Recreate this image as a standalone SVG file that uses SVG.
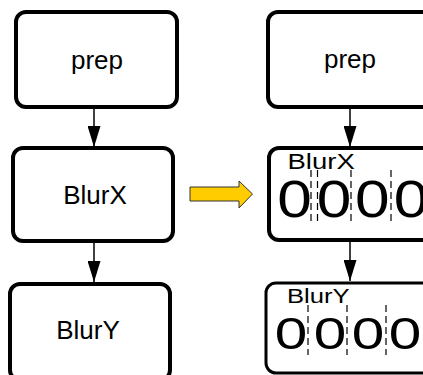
<svg xmlns="http://www.w3.org/2000/svg" width="423" height="375" viewBox="0 0 423 375">
<defs>
<style>
.box{fill:#fff;stroke:#000;stroke-width:4}
.lbl{font-family:"Liberation Sans",Arial,sans-serif;font-size:26px;fill:#000;text-anchor:middle}
.sm{font-family:"Liberation Sans",Arial,sans-serif;fill:#000}
.dig{font-family:"Liberation Sans",Arial,sans-serif;fill:#000;text-anchor:middle}
.edge{stroke:#000;stroke-width:1.5;fill:none;marker-end:url(#ah)}
.dash{stroke:#000;stroke-width:1.2;stroke-dasharray:7,4;fill:none}
</style>
<marker id="ah" markerWidth="21" markerHeight="13" refX="21" refY="6.5" orient="auto" markerUnits="userSpaceOnUse" viewBox="0 0 21 13">
<path d="M0,0 L21,6.5 L0,13 z" fill="#000"/>
</marker>
</defs>
<g id="connectors">
<line class="edge" x1="94" y1="109" x2="94" y2="147"/>
<line class="edge" x1="94" y1="243" x2="94" y2="282"/>
<line class="edge" x1="350" y1="109" x2="350" y2="147"/>
<line class="edge" x1="350" y1="242" x2="350" y2="281"/>
<polygon points="190,187 239,187 239,181 252.5,194 239,208 239,201 190,201" fill="#FFCC00" stroke="#333" stroke-width="1"/>
</g>
<g id="prep-left">
<rect class="box" x="16" y="12" width="161" height="95" rx="10"/>
<text class="lbl" x="97" y="69">prep</text>
</g>
<g id="blurx-left">
<rect class="box" x="13" y="148" width="160" height="93" rx="10"/>
<text class="lbl" x="95" y="204">BlurX</text>
</g>
<g id="blury-left">
<rect class="box" x="10" y="284" width="160" height="96" rx="10"/>
<text class="lbl" x="88" y="339">BlurY</text>
</g>
<g id="prep-right">
<rect class="box" x="268" y="12" width="170" height="95" rx="10"/>
<text class="lbl" x="350" y="68">prep</text>
</g>
<g id="blurx-right">
<rect class="box" x="269" y="148" width="170" height="92" rx="10"/>
<text class="sm" font-size="22" transform="translate(287.5,168.5) scale(1.25,1)">BlurX</text>
<text class="dig" font-size="51" transform="translate(294.5,216.5) scale(1.22,1)">0</text>
<text class="dig" font-size="51" transform="translate(334,216.5) scale(1.22,1)">0</text>
<text class="dig" font-size="51" transform="translate(372.3,216.5) scale(1.22,1)">0</text>
<text class="dig" font-size="51" transform="translate(411,216.5) scale(1.22,1)">0</text>
<line class="dash" x1="311" y1="170" x2="311" y2="222"/>
<line class="dash" x1="317.5" y1="170" x2="317.5" y2="222"/>
<line class="dash" x1="351" y1="170" x2="351" y2="222"/>
<line class="dash" x1="391" y1="170" x2="391" y2="222"/>
</g>
<g id="blury-right">
<rect class="box" x="266" y="283" width="170" height="90" rx="10" style="stroke-width:3"/>
<text class="sm" font-size="21" transform="translate(287,303) scale(1.22,1)">BlurY</text>
<text class="dig" font-size="45" transform="translate(291,349) scale(1.3,1)">0</text>
<text class="dig" font-size="45" transform="translate(330,349) scale(1.3,1)">0</text>
<text class="dig" font-size="45" transform="translate(368,349) scale(1.3,1)">0</text>
<text class="dig" font-size="45" transform="translate(405,349) scale(1.3,1)">0</text>
<line class="dash" x1="308" y1="305" x2="308" y2="355"/>
<line class="dash" x1="347" y1="305" x2="347" y2="355"/>
<line class="dash" x1="386" y1="305" x2="386" y2="355"/>
</g>
</svg>
